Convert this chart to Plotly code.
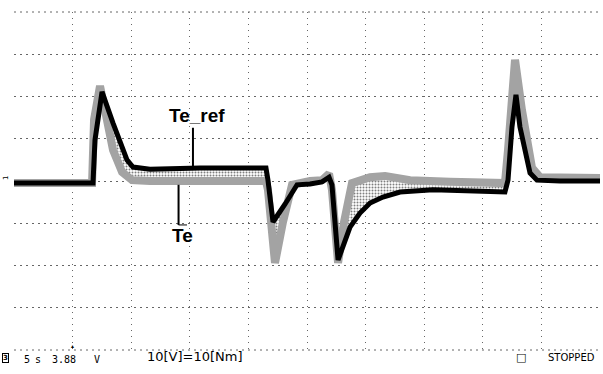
import plotly.graph_objects as go

# time in seconds (5 s/div), amplitude in screen divisions
t_ref = [0, 6.74, 6.91, 7.51, 8.45, 9.64, 10.15, 11.6, 15.87, 21.5, 21.67, 22.1, 23.12, 24.15,
         25.26, 26.28, 26.88, 27.13, 27.65, 28.67, 29.52, 30.38, 31.48, 32.94, 35.75, 38.91,
         41.89, 42.15, 42.49, 42.83, 43.17, 44.03, 44.62, 46.59, 50]
te_ref = [-0.05, -0.05, 0.97, 2.11, 1.37, 0.50, 0.33, 0.28, 0.31, 0.31, 0.02, -0.97, -0.55, -0.09,
          -0.07, -0.02, 0.09, -0.09, -1.87, -1.09, -0.76, -0.52, -0.38, -0.26, -0.21, -0.24,
          -0.26, 0.02, 1.28, 2.04, 1.28, 0.19, 0.02, 0.0, 0.0]

t_te = [0, 6.66, 6.83, 7.34, 7.85, 8.45, 9.22, 10.07, 11.6, 21.5, 21.67, 22.27, 22.95, 23.72,
        25.26, 26.28, 26.88, 27.13, 27.65, 28.16, 28.84, 30.38, 31.66, 33.79, 37.2, 41.89,
        42.15, 42.75, 43.34, 44.2, 44.88, 46.59, 50]
te = [-0.05, -0.05, 1.45, 2.25, 1.56, 0.73, 0.21, 0.02, 0.0, 0.0, -0.21, -1.94, -0.97, -0.09,
      0.0, 0.02, 0.17, -0.21, -1.94, -0.97, -0.05, 0.09, 0.12, 0.02, -0.02, -0.05,
      0.73, 2.87, 1.68, 0.31, 0.09, 0.07, 0.07]

fig = go.Figure()
# invisible base for the halftone band between the two traces
fig.add_trace(go.Scatter(x=t_ref, y=te_ref, mode="lines", line=dict(width=0, color="rgba(0,0,0,0)"),
                         hoverinfo="skip", showlegend=False))
fig.add_trace(go.Scatter(x=t_te, y=te, mode="lines", fill="tonexty",
                         fillpattern=dict(shape=".", fgcolor="#000000", bgcolor="#ffffff",
                                          size=3, solidity=0.35),
                         line=dict(width=8, color="#a3a3a3"), name="Te", showlegend=False))
fig.add_trace(go.Scatter(x=t_ref, y=te_ref, mode="lines", line=dict(width=5, color="#000000"),
                         name="Te_ref", showlegend=False))

lab_font = dict(family="Liberation Sans, Arial", size=19, color="black")
fig.add_annotation(x=15.6, y=1.56, xref="x", yref="y", text="<b>Te_ref</b>", showarrow=False, font=lab_font)
fig.add_annotation(x=14.4, y=-1.28, xref="x", yref="y", text="<b>Te</b>", showarrow=False, font=lab_font)
fig.add_shape(type="line", xref="x", yref="y", x0=15.27, x1=15.27, y0=1.26, y1=0.33,
              line=dict(color="black", width=2))
fig.add_shape(type="line", xref="x", yref="y", x0=14.04, x1=14.04, y0=-0.09, y1=-1.04,
              line=dict(color="black", width=2))
fig.add_shape(type="line", xref="x", yref="y", x0=14.04, x1=14.76, y0=-1.04, y1=-1.04,
              line=dict(color="black", width=1))
# top and bottom graticule rows
for yy in (0, 1):
    fig.add_shape(type="line", xref="paper", yref="paper", x0=0, x1=1, y0=yy, y1=yy, layer="below",
                  line=dict(color="#666666", width=1, dash="2px,4px"))

W, H = 603, 374
ML, MR, MT, MB = 14, 3, 12, 24


def px_note(text, xp, yp, font, **kw):
    fig.add_annotation(x=(xp - ML) / (W - ML - MR), y=1 - (yp - MT) / (H - MT - MB),
                       xref="paper", yref="paper", text=text, showarrow=False,
                       xanchor="center", yanchor="middle", font=font, **kw)


small = dict(family="DejaVu Sans Mono, monospace", size=10, color="black")
px_note("<b>3</b>", 5, 358, dict(family="DejaVu Sans", size=7, color="black"),
        bordercolor="black", borderwidth=1, borderpad=0)
for txt, xp in [("5", 27), ("s", 38), ("3.88", 64), ("V", 97)]:
    px_note(txt, xp, 359, small)
px_note("▲", 72, 346, dict(size=5, color="black"))
px_note("10[V]=10[Nm]", 195, 356, dict(family="DejaVu Sans", size=13, color="black"))
px_note("□", 521, 357, dict(family="DejaVu Sans", size=11, color="black"))
px_note("STOPPED", 571, 358, dict(family="DejaVu Sans", size=10, color="black"))
px_note("1", 6, 178, dict(family="DejaVu Sans", size=7, color="black"), textangle=-90)

fig.update_xaxes(range=[0, 50], dtick=5, showgrid=True, gridcolor="#666666", gridwidth=1,
                 griddash="1px,5px", zeroline=False, showticklabels=False, ticks="", showline=False)
fig.update_yaxes(range=[-4, 4], dtick=1, showgrid=True, gridcolor="#666666", gridwidth=1,
                 griddash="2px,4px", zeroline=False, showticklabels=False, ticks="", showline=False)
fig.update_layout(width=W, height=H, margin=dict(l=ML, r=MR, t=MT, b=MB),
                  paper_bgcolor="white", plot_bgcolor="white")
fig.write_html("out.html", config={"displayModeBar": False},
               post_script="document.body.style.margin='0';")
